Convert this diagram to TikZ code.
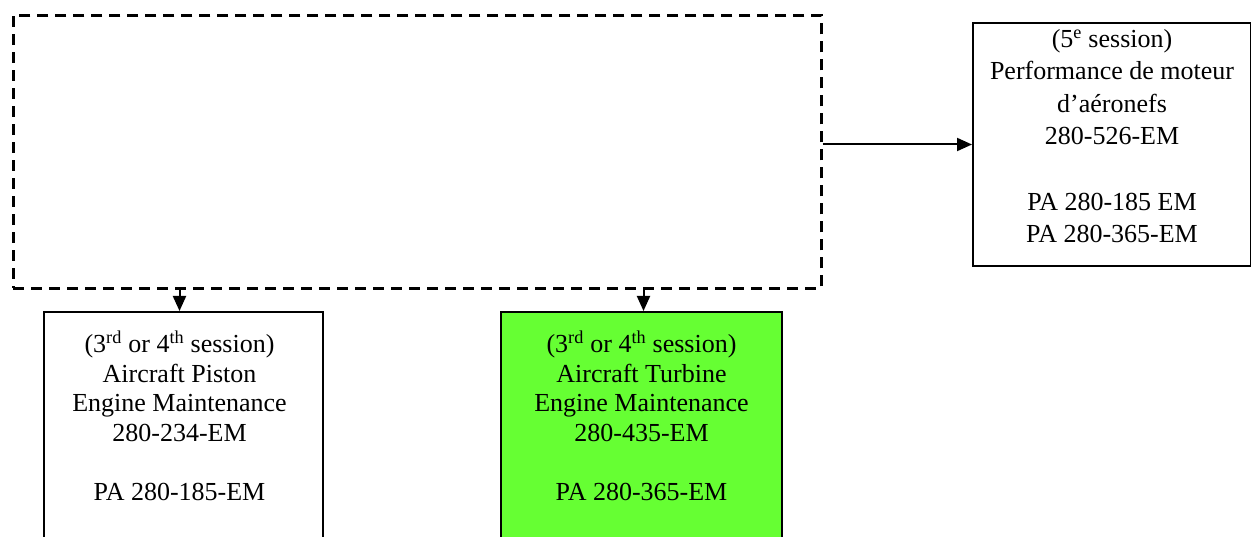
\documentclass[tikz,border=0pt]{standalone}
\usepackage{fontspec}
\setmainfont{Liberation Serif}
\usetikzlibrary{arrows.meta}
\definecolor{turbinegreen}{HTML}{66FF33}

\begin{document}
\begin{tikzpicture}[x=1pt, y=-1pt, >={Triangle[length=15pt,width=13pt]}, line width=2pt,
    course box/.style={draw, line width=2pt, anchor=north west, inner sep=0pt},
    course text/.style={anchor=north, align=center, inner sep=0pt, font=\fontsize{26}{29.6}\selectfont},
    group box/.style={draw, dash pattern=on 11pt off 7pt, line width=2.6pt, anchor=north west, inner sep=0pt}]
    \useasboundingbox (0,0) rectangle (1251,537);
    \clip (0,0) rectangle (1251,537);
    % dashed group
    \node[group box, minimum width=808pt, minimum height=273pt] (group) at (12,14) {};
    % boxes
    \node[course box, minimum width=278pt, minimum height=243pt] (perf) at (972,22) {};
    \node[course box, minimum width=279pt, minimum height=300pt] (piston) at (43,311) {};
    \node[course box, fill=turbinegreen, minimum width=281pt, minimum height=300pt] (turbine) at (500,311) {};
    % texts
    \node[course text, font=\fontsize{26}{32.6}\selectfont] (perf text) at ([yshift=-6pt]perf.north)
        {(5\textsuperscript{e} session)\\Performance de moteur\\d’aéronefs\\280-526-EM\\[32.6pt]PA 280-185 EM\\PA 280-365-EM};
    \node[course text] (piston text) at ([xshift=-4pt,yshift=-19pt]piston.north)
        {(3\textsuperscript{rd} or 4\textsuperscript{th} session)\\Aircraft Piston\\Engine Maintenance\\280-234-EM\\[29.6pt]PA 280-185-EM};
    \node[course text] (turbine text) at ([yshift=-19pt]turbine.north)
        {(3\textsuperscript{rd} or 4\textsuperscript{th} session)\\Aircraft Turbine\\Engine Maintenance\\280-435-EM\\[29.6pt]PA 280-365-EM};
    % arrows
    \draw[->] (perf.west -| group.east) -- (perf.west);
    \draw[->] ([xshift=-4pt]piston.north |- group.south) -- ([xshift=-4pt]piston.north);
    \draw[->] ([xshift=2pt]turbine.north |- group.south) -- ([xshift=2pt]turbine.north);
\end{tikzpicture}
\end{document}
